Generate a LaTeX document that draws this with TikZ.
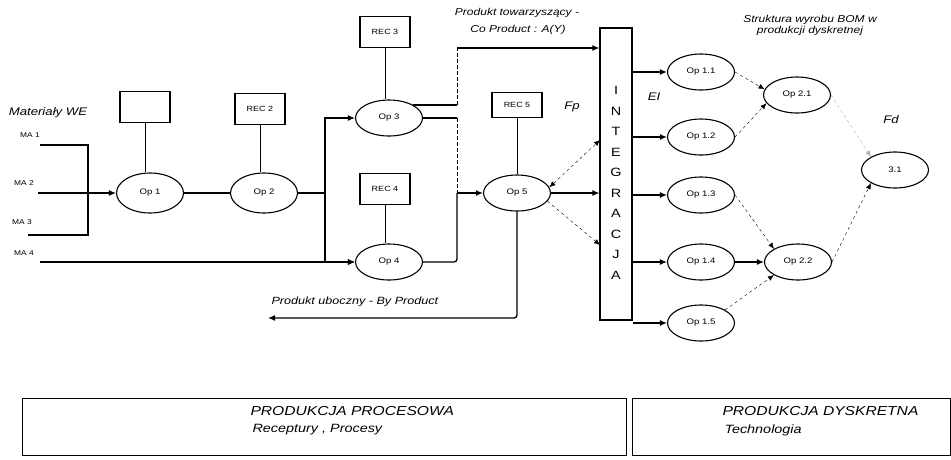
\documentclass[tikz,border=0pt]{standalone}
\usepackage{fontspec}
\setmainfont[FakeStretch=1.2]{Liberation Sans}
\usepackage{tikz}
\usetikzlibrary{shapes,arrows,positioning,calc,arrows.meta}

\begin{document}
\begin{tikzpicture}[x=1pt, y=-1pt,
    op/.style={draw, line width=1.1pt, ellipse, minimum width=67pt, minimum height=36pt, inner sep=0pt, font=\fontsize{8}{9}\selectfont},
    rec/.style={draw, line width=1.1pt, minimum width=50pt, minimum height=31pt, inner sep=0pt, font=\fontsize{7.5}{9}\selectfont},
    conn/.style={line width=1.3pt},
    flow/.style={conn, -{Latex[length=7pt,width=6pt]}},
    link/.style={thin, dash pattern=on 3pt off 3pt, -{Latex[length=6pt,width=5pt]}},
    turn/.style={thin, dash pattern=on 4pt off 2pt},
    lbl/.style={font=\fontsize{10}{11}\selectfont\itshape},
    small/.style={font=\fontsize{7}{8}\selectfont}]
    \useasboundingbox (0,0) rectangle (951,459);

    % Materials
    \node [lbl, font=\fontsize{11}{12}\selectfont\itshape] (mat) at (48,113) {Materiały WE};
    \node [small] (ma1) at (30,135) {MA 1};
    \node [small] (ma2) at (24,183) {MA 2};
    \node [small] (ma3) at (22,222) {MA 3};
    \node [small] (ma4) at (24,253) {MA 4};
    \coordinate (in1) at (40,145);
    \coordinate (in2) at (38,193);
    \coordinate (in3) at (28,235);
    \coordinate (in4) at (40,262);
    \coordinate (jm) at (88,193);
    \draw [conn] (in1) -| (jm);
    \draw [conn] (in3) -| (jm);

    % Process operations
    \node [op, minimum height=40pt] (op1) at (150,193) {Op 1};
    \node [op, minimum height=40pt] (op2) at (264,193) {Op 2};
    \node [op] (op3) at (389,118) {Op 3};
    \node [op] (op4) at (389,262) {Op 4};
    \node [op] (op5) at (517,193) {Op 5};
    \node [rec] (rec1) at (145,107) {};
    \node [rec] (rec2) at (260,109) {REC 2};
    \node [rec] (rec3) at (385,32) {REC 3};
    \node [rec] (rec4) at (385,189) {REC 4};
    \node [rec, minimum height=25pt] (rec5) at (517,105) {REC 5};
    \draw [thick] (rec1) -- (rec1 |- op1.north);
    \draw [thick] (rec2) -- (rec2 |- op2.north);
    \draw [thick] (rec3) -- (rec3 |- op3.north);
    \draw [thick] (rec4) -- (rec4 |- op4.north);
    \draw [thick] (rec5) -- (op5);

    \draw [flow] (in2) -- (op1);
    \draw [flow] (in4) -- (op4);
    \draw [conn] (op1) -- (op2);
    \coordinate (jp) at (325,193);
    \draw [conn] (op2) -- (jp);
    \draw [flow] (jp) |- (op3);
    \draw [flow] (jp) |- (op4);

    % Integration bar
    \node [draw, line width=1.1pt, minimum width=32pt, minimum height=292pt] (bar) at (616,174) {};
    \node [font=\fontsize{12}{20.5}\selectfont, align=center] (integ) at (616,183) {I\\N\\T\\E\\G\\R\\A\\C\\J\\A};

    % Co-product
    \coordinate (cpt) at (457,48);
    \coordinate (jo) at (457,193);
    \draw [conn] (op3.north east) -- (op3.north east -| cpt) coordinate (c3);
    \draw [turn] (c3) -- (cpt);
    \draw [flow] (cpt) -- (cpt -| bar.west);
    \node [lbl] (cplbl) at (517,13) {Produkt towarzyszący -};
    \node [lbl] (cplbl2) at (518,30) {Co Product : A(Y)};
    \draw [conn] (op3.east) -- (op3.east -| jo) coordinate (c3b);
    \draw [conn, rounded corners=3pt] (op4.east) -| (jo);
    \draw [turn] (c3b) -- (jo);
    \draw [flow] (jo) -- (op5);

    % Op 5 to integration
    \node [lbl, font=\fontsize{11}{12}\selectfont\itshape] (fp) at (572,107) {Fp};
    \coordinate (bt) at (600,140);
    \coordinate (bb) at (600,245);
    \draw [flow] (op5.east) -- (op5.east -| bar.west);
    \draw [link, {Latex[length=6pt,width=5pt]}-{Latex[length=6pt,width=5pt]}] (op5.10) -- (bt);
    \draw [link] (op5.-15) -- (bb);

    % By-product
    \coordinate (bp) at (268,318);
    \draw [flow, rounded corners=3pt] (op5.south) |- (bp);
    \node [lbl, font=\fontsize{10.5}{12}\selectfont\itshape, anchor=west] (bplbl) at (268,302) {Produkt uboczny - By Product};

    % Discrete operations
    \node [op] (op11) at (701,72) {Op 1.1};
    \node [op] (op12) at (701,137) {Op 1.2};
    \node [op] (op13) at (701,195) {Op 1.3};
    \node [op] (op14) at (701,262) {Op 1.4};
    \node [op] (op15) at (701,323) {Op 1.5};
    \node [op] (op21) at (797,95) {Op 2.1};
    \node [op] (op22) at (798,262) {Op 2.2};
    \node [op] (op31) at (895,170) {3.1};
    \foreach \n in {op11,op12,op13,op14,op15}
        \draw [flow] (bar.east |- \n) -- (\n);
    \draw [flow] (op14) -- (op22);
    \draw [link] (op11.east) -- (op21.170);
    \draw [link] (op12.east) -- (op21.195);
    \draw [link] (op13.east) -- (op22.north west);
    \draw [link] (op15.north east) -- (op22.south west);
    \draw [link, gray!60] (op21.east) -- (op31.north west);
    \draw [link] (op22.east) -- (op31.south west);
    \node [lbl, font=\fontsize{11}{12}\selectfont\itshape] (ei) at (654,97) {EI};
    \node [lbl, font=\fontsize{11}{12}\selectfont\itshape] (fd) at (891,120) {Fd};
    \node [lbl, align=center] (bom) at (810,25) {Struktura wyrobu BOM w\\produkcji dyskretnej};

    % Production types
    \draw [line width=0.9pt] (22,398) rectangle (626,455);
    \draw [line width=0.9pt] (632,398) rectangle (950,455);
    \node [lbl, font=\fontsize{13}{14}\selectfont\itshape, anchor=west] (proc) at (247,411) {PRODUKCJA PROCESOWA};
    \node [lbl, font=\fontsize{12}{13}\selectfont\itshape, anchor=west] (proc2) at (249,430) {Receptury , Procesy};
    \node [lbl, font=\fontsize{13}{14}\selectfont\itshape, anchor=west] (disc) at (719,411) {PRODUKCJA DYSKRETNA};
    \node [lbl, font=\fontsize{12}{13}\selectfont\itshape, anchor=west] (disc2) at (721,430) {Technologia};
\end{tikzpicture}
\end{document}
